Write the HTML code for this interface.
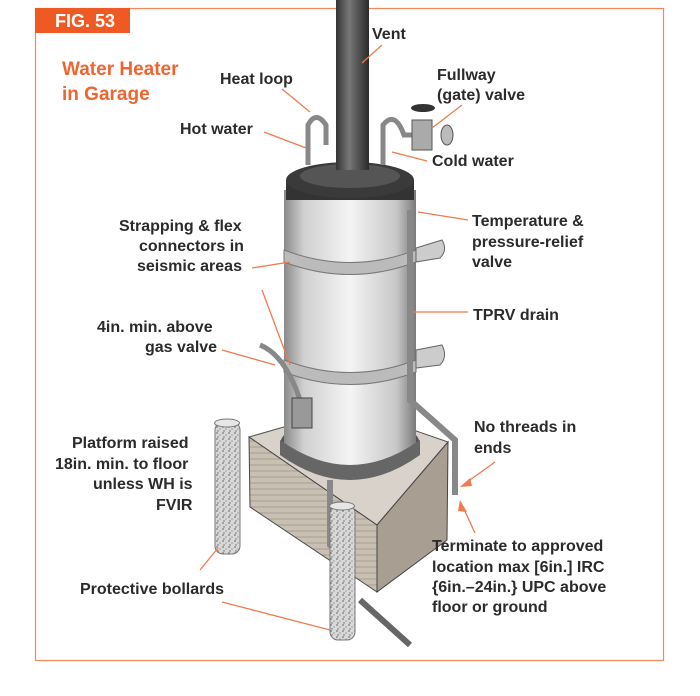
<!DOCTYPE html>
<html><head><meta charset="utf-8"><style>
body{margin:0;background:#fff;}
svg{display:block;font-family:"Liberation Sans",sans-serif;}
.t{font-size:16px;font-weight:bold;fill:#2b2b2b;}
.l{stroke:#f07a50;stroke-width:1.3;fill:none;}
</style></head><body>
<svg width="700" height="696" viewBox="0 0 700 696">
<defs>
<linearGradient id="tank" x1="0" x2="1"><stop offset="0" stop-color="#8a8a8a"/><stop offset="0.15" stop-color="#d0d0d0"/><stop offset="0.5" stop-color="#f4f4f4"/><stop offset="0.85" stop-color="#c8c8c8"/><stop offset="1" stop-color="#7a7a7a"/></linearGradient>
<linearGradient id="vent" x1="0" x2="1"><stop offset="0" stop-color="#333"/><stop offset="0.4" stop-color="#777"/><stop offset="1" stop-color="#2a2a2a"/></linearGradient>
<pattern id="speck" width="6" height="6" patternUnits="userSpaceOnUse"><rect width="6" height="6" fill="#d8d8d8"/><circle cx="1" cy="1" r="0.9" fill="#777"/><circle cx="4" cy="3" r="0.8" fill="#999"/><circle cx="2" cy="5" r="0.7" fill="#666"/></pattern>
<pattern id="wood" width="8" height="6" patternUnits="userSpaceOnUse"><rect width="8" height="6" fill="#c9c0b4"/><line x1="0" y1="3" x2="8" y2="3" stroke="#a89d90" stroke-width="1"/></pattern>
</defs>
<rect x="35.5" y="8.5" width="628" height="652" fill="none" stroke="#f4875c" stroke-width="1.2"/>
<rect x="35" y="8" width="95" height="25" fill="#ef5a24"/>
<text x="55" y="27" font-size="18" font-weight="bold" fill="#fff">FIG. 53</text>
<text x="62" y="75" font-size="19" font-weight="bold" fill="#ef6430">Water Heater</text>
<text x="62" y="100" font-size="19" font-weight="bold" fill="#ef6430">in Garage</text>

<polygon points="249,437 350,408 448,442 377,525" fill="#d8d2ca" stroke="#555"/>
<polygon points="249,437 377,525 377,592 250,507" fill="url(#wood)" stroke="#444"/>
<polygon points="377,525 448,442 447,540 377,592" fill="#a89e92" stroke="#444"/>
<ellipse cx="350" cy="445" rx="70" ry="30" fill="#555"/>
<rect x="284" y="190" width="132" height="255" fill="url(#tank)"/>
<ellipse cx="350" cy="445" rx="66" ry="24" fill="url(#tank)"/>
<path d="M280,440 Q350,490 420,440 L420,455 Q350,505 280,455Z" fill="#666"/>
<rect x="286" y="180" width="128" height="20" fill="#333"/>
<ellipse cx="350" cy="180" rx="64" ry="18" fill="#3a3a3a"/>
<ellipse cx="350" cy="176" rx="50" ry="12" fill="#555"/>
<rect x="336" y="0" width="33" height="170" fill="url(#vent)"/>
<path d="M284,250 Q350,275 416,250 L416,262 Q350,287 284,262Z" fill="#bbb" stroke="#777"/>
<path d="M284,360 Q350,385 416,360 L416,372 Q350,397 284,372Z" fill="#bbb" stroke="#777"/>
<path d="M416,248 L442,240 Q448,250 440,258 L416,262Z" fill="#ccc" stroke="#666"/>
<path d="M416,350 L442,345 Q448,357 440,365 L416,368Z" fill="#ccc" stroke="#666"/>
<path d="M308,165 L308,125 Q316,110 326,125 L326,145" stroke="#888" stroke-width="5" fill="none"/>
<path d="M383,165 L383,125 Q395,110 404,135 L420,135" stroke="#888" stroke-width="5" fill="none"/>
<rect x="412" y="120" width="20" height="30" fill="#aaa" stroke="#555"/>
<ellipse cx="423" cy="108" rx="12" ry="4" fill="#333"/>
<ellipse cx="447" cy="135" rx="6" ry="10" fill="#bbb" stroke="#555"/>
<path d="M410,210 L410,400 L455,440 L455,495" stroke="#888" stroke-width="6" fill="none"/>
<path d="M330,480 L330,545 L350,560" stroke="#888" stroke-width="6" fill="none"/>
<path d="M260,345 Q285,355 300,400" stroke="#888" stroke-width="5" fill="none"/>
<rect x="292" y="398" width="20" height="30" fill="#999" stroke="#444"/>
<path d="M360,600 L410,645" stroke="#666" stroke-width="6"/>
<rect x="215" y="422" width="25" height="132" rx="8" fill="url(#speck)" stroke="#777"/>
<ellipse cx="227" cy="423" rx="12.5" ry="4" fill="#e6e6e6" stroke="#777"/>
<rect x="330" y="505" width="25" height="135" rx="8" fill="url(#speck)" stroke="#777"/>
<ellipse cx="342" cy="506" rx="12.5" ry="4" fill="#e6e6e6" stroke="#777"/>

<text class="t" x="372" y="39">Vent</text>
<text class="t" x="220" y="84">Heat loop</text>
<text class="t" x="437" y="80">Fullway</text>
<text class="t" x="437" y="100">(gate) valve</text>
<text class="t" x="180" y="134">Hot water</text>
<text class="t" x="432" y="166">Cold water</text>
<text class="t" x="472" y="226">Temperature &amp;</text>
<text class="t" x="472" y="247">pressure-relief</text>
<text class="t" x="472" y="267">valve</text>
<text class="t" x="473" y="320">TPRV drain</text>
<text class="t" x="119" y="231">Strapping &amp; flex</text>
<text class="t" x="139" y="251">connectors in</text>
<text class="t" x="137" y="271">seismic areas</text>
<text class="t" x="97" y="332">4in. min. above</text>
<text class="t" x="145" y="352">gas valve</text>
<text class="t" x="72" y="448">Platform raised</text>
<text class="t" x="55" y="469">18in. min. to floor</text>
<text class="t" x="93" y="489">unless  WH is</text>
<text class="t" x="156" y="510">FVIR</text>
<text class="t" x="80" y="594">Protective bollards</text>
<text class="t" x="474" y="432">No threads in</text>
<text class="t" x="474" y="453">ends</text>
<text class="t" x="432" y="551">Terminate to approved</text>
<text class="t" x="432" y="572">location max [6in.] IRC</text>
<text class="t" x="432" y="592">{6in.–24in.} UPC above</text>
<text class="t" x="432" y="612">floor or ground</text>

<line class="l" x1="382" y1="45" x2="362" y2="63"/>
<line class="l" x1="282" y1="89" x2="310" y2="112"/>
<line class="l" x1="264" y1="132" x2="306" y2="148"/>
<line class="l" x1="462" y1="105" x2="432" y2="128"/>
<line class="l" x1="427" y1="161" x2="392" y2="152"/>
<line class="l" x1="468" y1="220" x2="418" y2="212"/>
<line class="l" x1="468" y1="312" x2="413" y2="312"/>
<line class="l" x1="252" y1="268" x2="290" y2="262"/>
<line class="l" x1="262" y1="290" x2="290" y2="365"/>
<line class="l" x1="222" y1="350" x2="275" y2="365"/>
<line class="l" x1="200" y1="570" x2="218" y2="548"/>
<line class="l" x1="222" y1="602" x2="330" y2="630"/>
<line class="l" x1="495" y1="462" x2="463" y2="485"/>
<polygon points="460,487 470,478 472,486" fill="#f07a50"/>
<line class="l" x1="475" y1="533" x2="462" y2="505"/>
<polygon points="460,500 467,512 458,511" fill="#f07a50"/>
</svg>
</body></html>
